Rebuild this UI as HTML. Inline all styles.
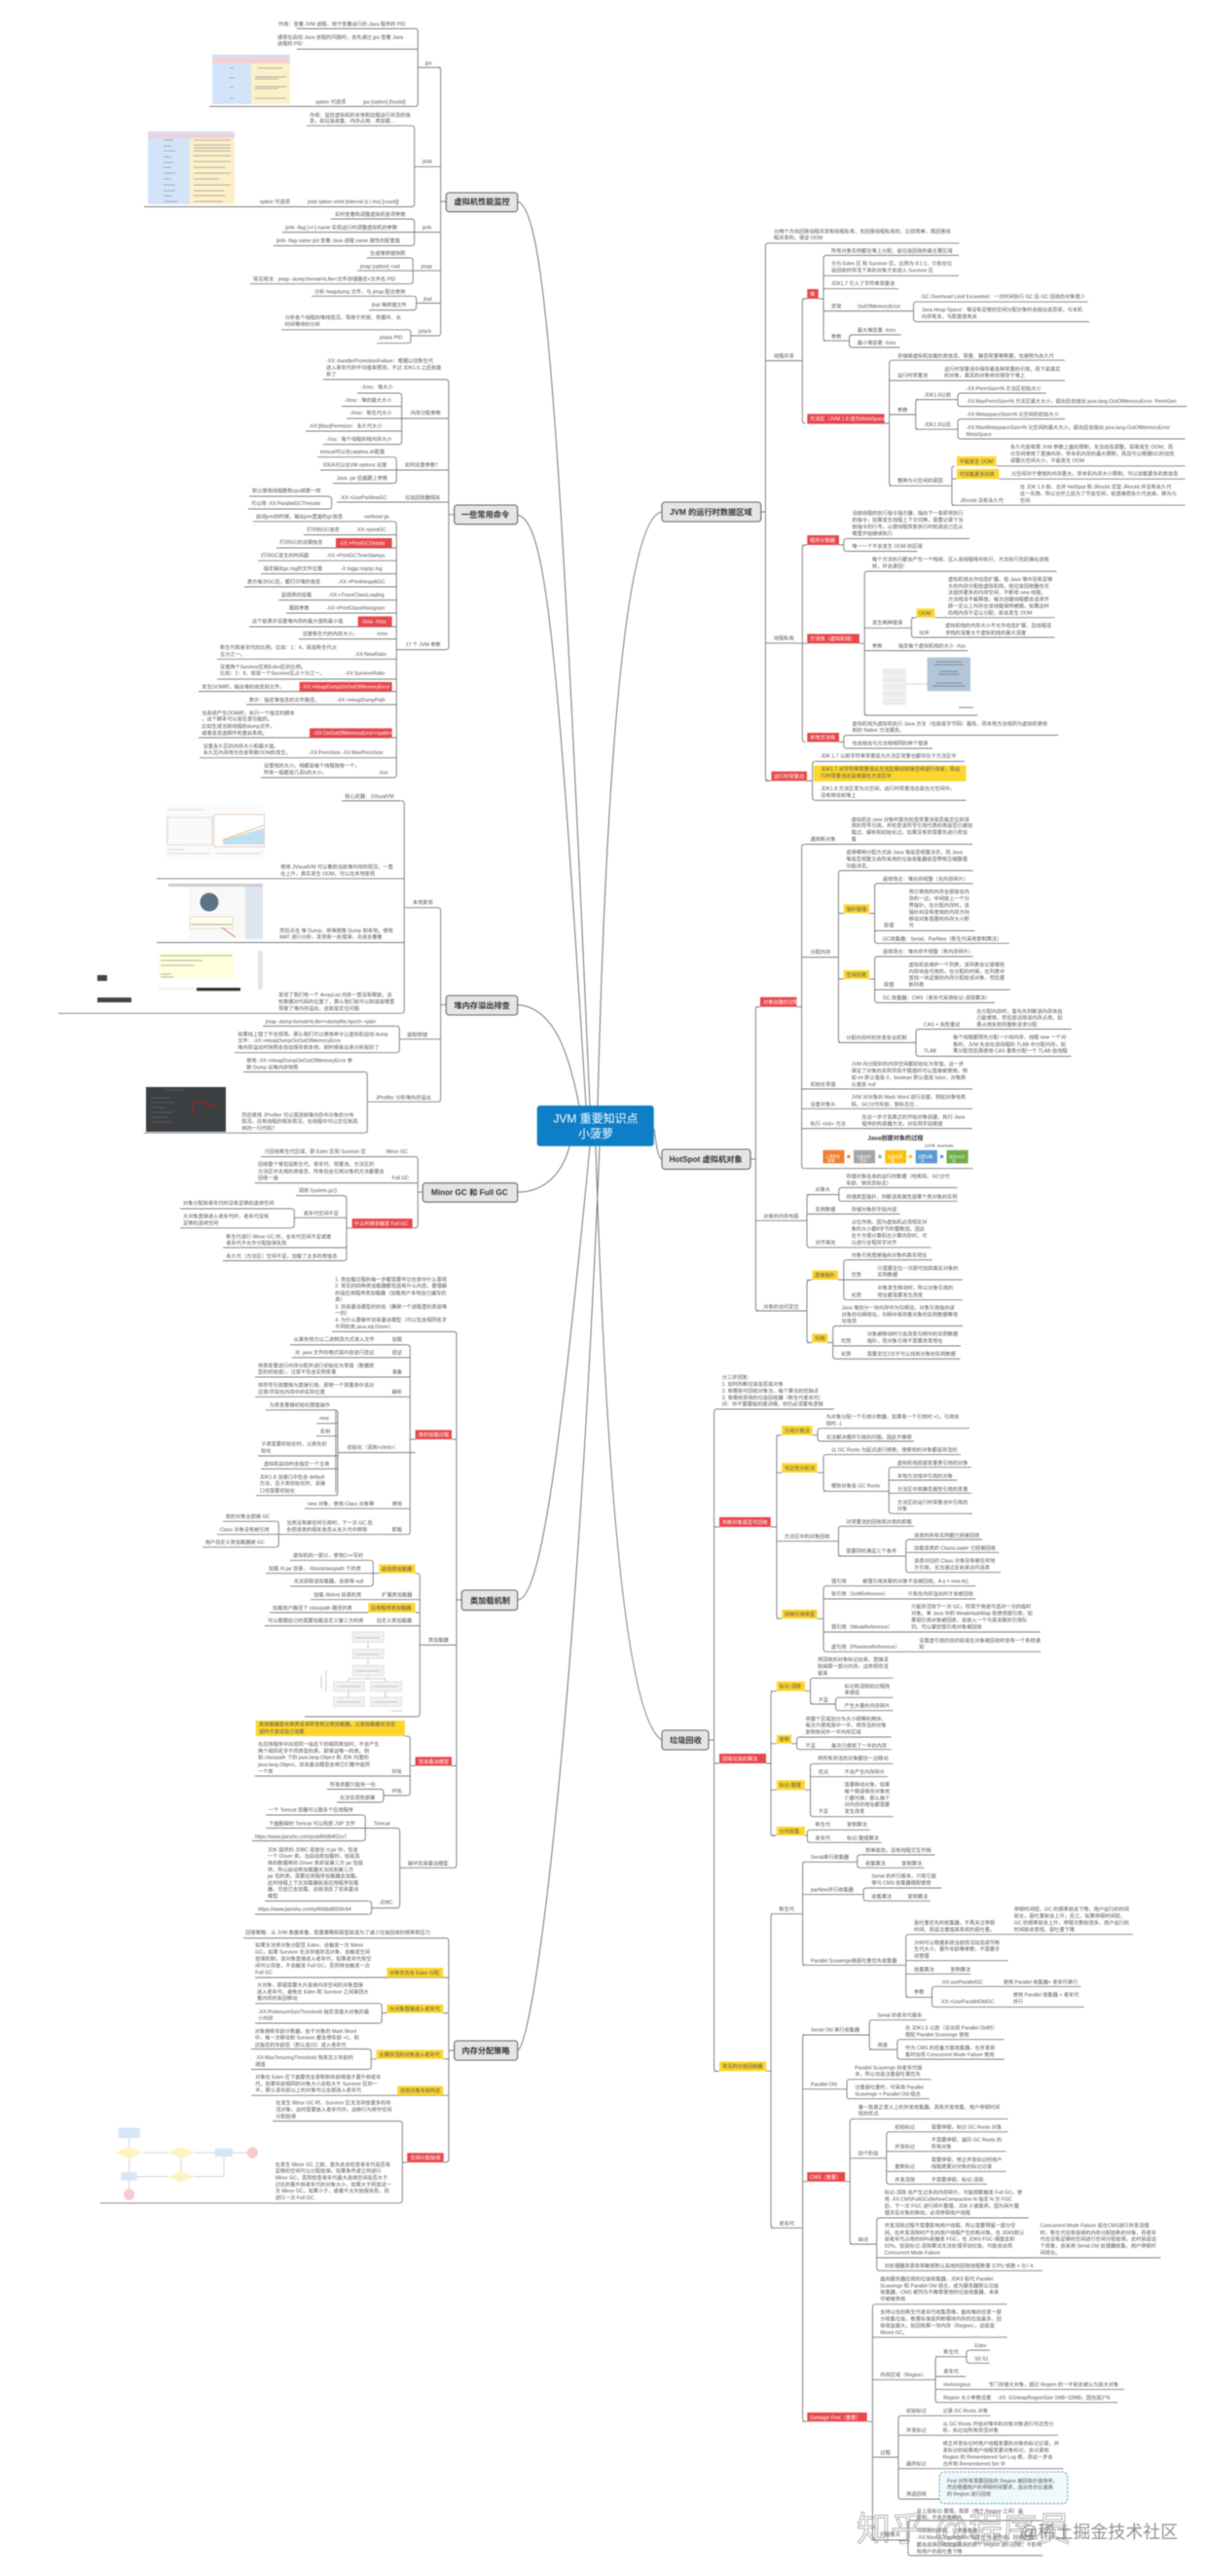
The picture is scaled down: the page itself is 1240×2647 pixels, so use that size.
<!DOCTYPE html>
<html lang="zh"><head><meta charset="utf-8"><title>JVM 重要知识点</title>
<style>
html,body{margin:0;padding:0;background:#fff;width:1240px;height:2647px;overflow:hidden}
svg{display:block;filter:blur(.4px)}
text{font-family:"Liberation Sans","Noto Sans CJK SC",sans-serif;font-size:5.2px;fill:#555}
.w text,text.w{fill:#fff}
.n{font-size:8.2px;font-weight:bold;fill:#333}
.r{fill:#e8474c}.y{fill:#fcd62f}
.b{fill:#e5e5e5;stroke:#666;stroke-width:1.1}
</style></head><body>
<svg xmlns="http://www.w3.org/2000/svg" width="1240" height="2647" viewBox="0 0 1240 2647">
<rect width="1240" height="2647" fill="#fff"/>

<!-- main curves -->
<path fill="none" stroke="#777" stroke-width="1" d="M531.7 207C560 215 575 420 606 1136M531.7 529C560 535 572 650 602 1136M531.7 1032.5C570 1035 585 1085 595 1136M531.7 1225C560 1225 578 1205 585 1178M531.7 1644C555 1644 575 1500 606 1178M531.7 2107C548 2100 590 1800 616 1178M680 526C650 530 625 700 614 1136M680 1191C676 1191 674 1175 672 1160M680 1788C650 1770 625 1600 612 1178"/>

<!-- images -->
<g>
<rect x="218" y="56" width="80" height="5" fill="#dcdcf0"/><rect x="218" y="60.5" width="80" height="4.5" fill="#f8cdd0"/><rect x="218" y="65" width="40" height="42" fill="#d3e4f8"/><rect x="258" y="65" width="40" height="42" fill="#fdf0c8"/>
<path stroke="#999" stroke-width=".8" fill="none" d="M265 70H290M262 79H294M262 81H286M262 89H294M262 91H286M262 101H294M236 70H240M235 80H241M236 90H240M236 101H240"/>
<rect x="152" y="135" width="89" height="4" fill="#dcdcf0"/><rect x="152" y="139" width="89" height="3" fill="#f8cdd0"/><rect x="152" y="142" width="43" height="68" fill="#d3e4f8"/><rect x="195" y="142" width="46" height="68" fill="#fdf0c8"/>
<path stroke="#999" stroke-width=".7" fill="none" d="M199 144H237M199 149H237M199 152H237M199 155H237M199 160H237M199 166H237M199 172H231M199 178H237M199 184H225M199 190H237M199 196H230M199 201H232M199 207H229M168 144H178M168 150H176M168 155H180M168 161H176M168 167H178M168 172H176M168 178H180M168 184H176M168 190H180M168 196H180M168 201H176M168 207H182"/>

<rect x="170" y="828" width="102" height="54" fill="#fafafa"/>
<path stroke="#bbb" stroke-width=".6" fill="none" d="M172 840H218V868H172ZM172 832H210M172 877H216M222 877H268M172 873H190"/>
<rect x="220" y="837" width="51.5" height="33" fill="#fff" stroke="#e9b8a0" stroke-width=".7"/><polygon points="229,863 271,851 271,868 229,868" fill="#bfe0ee"/><path d="M229 863L271 848" stroke="#e7b070" stroke-width=".8" fill="none"/>

<rect x="173" y="908" width="97" height="57" fill="#f8f8f8"/><rect x="173" y="908" width="97" height="3" fill="#ccc"/><rect x="252" y="911" width="18" height="54" fill="#dde5ee"/><rect x="173" y="911" width="21" height="54" fill="#fff"/><circle cx="215" cy="927" r="9.5" fill="#5d7288"/><rect x="195" y="942" width="44" height="12" fill="#fffdea" stroke="#c9c2a0" stroke-width=".5"/><path d="M228 953L241.7 963" stroke="#b44" stroke-width=".7" fill="none"/><path d="M196 950H238" stroke="#aaa" stroke-width="1" fill="none"/>

<rect x="163" y="978" width="77" height="27" fill="#ffffdc"/><path stroke="#999" stroke-width=".7" fill="none" d="M165 982H238M165 987H208M165 992H200M165 1001H176M165 1004H178"/><rect x="265" y="977" width="5" height="40" fill="#e4e4e4"/><rect x="202" y="1015" width="45" height="3.2" fill="#333"/><rect x="163" y="1014" width="38" height="4" fill="#f5f5f5"/>
<rect x="100" y="1002" width="10" height="6" fill="#444"/><rect x="100" y="1025" width="35" height="5" fill="#444"/>

<rect x="150" y="1117" width="82" height="46" fill="#3c3f41"/><path d="M198 1146V1133H208Q212 1136 224 1136" stroke="#8c2a2a" stroke-width="1.5" fill="none"/><path stroke="#667" stroke-width=".7" fill="none" d="M155 1128H175M155 1133H180M155 1138H170M155 1143H178M155 1148H172M155 1153H176M170 1120H190"/>

<!-- class loader diagram -->
<g fill="#f1f1f1" stroke="#ccc" stroke-width=".5"><rect x="362.3" y="1677" width="32" height="10.4"/><rect x="362.3" y="1694.6" width="32" height="9.7"/><rect x="362.3" y="1711.4" width="32" height="10.6"/><rect x="342.7" y="1728" width="31.6" height="10"/><rect x="380.7" y="1728" width="32" height="10"/><rect x="342.7" y="1744" width="31.6" height="9.5"/><rect x="380.7" y="1744" width="32" height="9.5"/></g>
<path stroke="#999" stroke-width=".5" fill="none" d="M378 1687.4V1694.6M378 1704.3V1711.4M378 1722V1725M358 1728V1725H396V1728M358 1738V1744M396 1738V1744M330 1722V1735M335 1716V1738M365 1683H390M365 1700H390M365 1717H390M346 1733H370M384 1733H408M346 1749H370M384 1749H408M402 1758H413"/>

<!-- flowchart -->
<rect x="121.7" y="2186.4" width="22.3" height="10.6" fill="#d6e6f7"/><polygon points="119,2212 132.7,2205.5 146.5,2212 132.7,2218.5" fill="#fdf3c0"/><polygon points="172,2212 186,2206 200,2212 186,2218" fill="#fdf3c0"/><rect x="220.7" y="2207.7" width="18.3" height="8.5" fill="#d6e6f7"/><circle cx="259.3" cy="2212" r="5.7" fill="#f6cbd0"/><rect x="124.3" y="2232" width="16.4" height="8.4" fill="#d6e6f7"/><polygon points="173,2236.6 186,2231 199,2236.6 186,2242.2" fill="#fdf3c0"/><circle cx="132.7" cy="2255" r="5.7" fill="#f6cbd0"/>
<path stroke="#aaa" stroke-width=".5" fill="none" d="M132.7 2197V2205.5M146.5 2212H172M200 2212H220.7M239 2212H253.6M132.7 2218.5V2232M186 2218V2231M173 2236.6H140.7M199 2236.6H230V2216.2M132.7 2240.4V2249.3"/>
</g>

<!-- all tree lines -->
<path fill="none" stroke="#7c7c7c" stroke-width=".95" d="
M458.3 207H452.7M449.7 69.4q3 0 3 3V342q0 3-3 3
M426.3 29.5q3 0 3 3V106.4q0 3-3 3M305 29.5H426M305 50.5H429.3M215 109.4H426M429.3 69.4H452.7
M422.7 129.2q3 0 3 3V209.5q0 3-3 3M315 129.2H423M148 212.5H423M425.7 171.3H452.7
M422.7 225q3 0 3 3V249.5q0 3-3 3M340 225H423M290 238.6H452.7M281 252.5H423
M421.3 265q3 0 3 3V288.7q0 3-3 3M377 265H421M367 278.2H452.7M257 291.7H421
M424.7 304.3q3 0 3 3V315.6q0 3-3 3M320 304.3H425M379 318.6H425M427.7 311.5H452.7
M419 338.8q3 0 3 3V349.7q0 3-3 3M289 338.8H419M387 352.7H419M422 345H449.7

M466.7 528.7H461M458 390q3 0 3 3V664.6q0 3-3 3M332 390H458
M409.7 404q3 0 3 3V453.6q0 3-3 3M367 404H410M351 417.5H412.7M356 430H461M314 443H412.7M332 456.6H410
M404.3 469.7q3 0 3 3V493.6q0 3-3 3M326 469.7H404M329 483H461M342 496.6H404
M346 516H461M337.7 510.5q3 0 3 3V520q0 3-3 3M256 510H338M255 523H338
M404.3 535.8q3 0 3 3V796q0 3-3 3M407.3 667.6H458
M260 535.8H404M312 549.6H407.3M284 563H407.3M265 576.2H407.3M268 589.6H407.3M251 603H407.3M286 616.6H407.3M294 630H407.3M256 644H407.3M307 656.6H407.3M223 677.3H407.3M223 697.9H407.3M204 710.5H407.3M253 724H407.3M204 758H407.3M205 778.7H407.3M268 799H404

M458.3 1032.5H452.7M449.7 932.7q3 0 3 3V1129.2q0 3-3 3M415.7 932.7H449.7
M412.3 822.9q3 0 3 3V1038.3q0 3-3 3M351 822.9H412M161 902.8H415.3M161 968.5H415.3M60 1041.3H412
M407.3 1054.4q3 0 3 3V1078.7q0 3-3 3M270 1054.4H407M410.7 1067.8H452.7M241 1081.7H407
M374.3 1101.5q3 0 3 3V1161.2q0 3-3 3M250 1101.5H374M377.7 1132.2H449.7M147.7 1164.2H374

M434.3 1225H429.3M426.3 1188.6q3 0 3 3V1258.8q0 3-3 3M268 1188.6H426M261.7 1215.6H429.3M423.7 1261.8H426.3
M353 1228.6q3 0 3 3V1292.5q0 3-3 3M304 1228.6H353M356 1261.8H361.7M229 1282H356M229 1295.5H353M302.7 1251.3H356
M299.3 1242q3 0 3 3V1258.8q0 3-3 3M185 1242H299M185 1261.8H299

M474.3 1644H469M466 1368.4q3 0 3 3V1916.3q0 3-3 3M341 1368.4H466M464 1479H469
M418.3 1381.9q3 0 3 3V1573.7q0 3-3 3M298 1381.9H418M300 1395H421.3M262 1415H421.3M262 1435.3H421.3M347.3 1492.6H426.7M421.3 1479H426.7M313 1550.2H421.3M287 1576.7H418M345 1448.8v84.9M344 1448.8q3 0 3 3V1533.7q0 3-3 3M273 1448.8H344M325 1462.7H347M325 1475.7H347M265 1496H347M268 1509.4H347M263 1536.7H344
M283.3 1563.3q3 0 3 3V1586.8q0 3-3 3M229 1563.3H283M223 1576.7H286M208 1589.8H283
M431.7 1690.4H469M428.3 1616.7q3 0 3 3V1761q0 3-3 3M426.7 1616.7H428.3M380.3 1603.3q3 0 3 3V1627q0 3-3 3M298 1603.3H380M273 1616.7H389.3M298 1630H380M319 1643.7H431.3M277 1657H378.3M426.7 1657H431.3M272 1670.6H431.3M313 1764H428
M464 1814.5H469M418.3 1784q3 0 3 3V1842q0 3-3 3M416 1784H418M261.7 1825H421.3M421.3 1814.5H426.7M394 1845H418
M391 1838.5q3 0 3 3V1849q0 3-3 3M336 1838.5H391M346 1852H391
M410.7 1919.3H466M407.7 1878.5q3 0 3 3V1957.6q0 3-3 3M375.7 1878.5H407.7M381.7 1960.6H407.7
M372.3 1865q3 0 3 3V1888.6q0 3-3 3M273 1865H372M273 1878.5H375M259 1891.6H372
M378.7 1953.4q3 0 3 3V1964q0 3-3 3M272 1953.4H378M262 1967H378

M466.7 2107H461M458 1991.5q3 0 3 3V2218.7q0 3-3 3M250 1991.5H458M262 2032H461M455.3 2068.5H461M455.3 2115.7H461M258 2153.2H461M413.3 2222H418.3M455.7 2222H458
M389.3 2058.7q3 0 3 3V2076q0 3-3 3M262 2058.7H389M262 2079H389M392.3 2068.5H397.3
M378.3 2105.5q3 0 3 3V2123.4q0 3-3 3M258 2105.5H378M258 2126.4H378M381.3 2115.7H386.7
M410.3 2179.6q3 0 3 3V2260.8q0 3-3 3M280 2179.6H410M103 2263.8H410

M781.8 526H786.4M789.4 249.8q-3 0-3 3V799q0 3 3 3M789 249.8H985.4
M786.4 370.6H824.3M827.3 307q-3 0-3 3V432q0 3 3 3M824.3 307H829.3M840.7 307H846
M849 262.4q-3 0-3 3V347.2q0 3 3 3M849 262.4H985M846 283.3H985M846 296.7H923M846 319.6H938.6
M941.6 310.2q-3 0-3 3V327.6q0 3 3 3M941 310.2H1117.5M941 330.6H1119
M846 350.2H872.5M875.5 344q-3 0-3 3V354q0 3 3 3M875 344H925.7M875 357H924.6
M908.6 435H913.6M916.6 370.2q-3 0-3 3V496.2q0 3 3 3M916 370.2H1094M913.6 391H1094M913.6 426H940.7M943.7 410.6q-3 0-3 3V438.2q0 3 3 3M940.7 410.6H984M940.7 441.2H984M987 404q-3 0-3 3V414.6q0 3 3 3M987 404H1074.6M987 417.6H1219.3M987 430.6q-3 0-3 3V448q0 3 3 3M987 430.6H1094M987 451H1217.5
M913.6 499.2H977.9M980.9 478.8q-3 0-3 3V516.2q0 3 3 3M1023.6 478.8H1217.5M1026.4 492.2H1217.5M978 492.2H983M978 519.2H1217.5
M786.4 660.8H824.3M827.3 560q-3 0-3 3V759.4q0 3 3 3M824.3 560H829.3M824.3 661.2H829.3M862 560H866.8
M869.8 553.5q-3 0-3 3V563.5q0 3 3 3M870 553.5H996M870 566.5H942.5
M882.9 661.2H888.2M891.2 587q-3 0-3 3V732q0 3 3 3M891 587H1085.4M888.2 645.3H936.4M888.2 668.6H994.3M888.2 735H1004.3
M939.4 634.7q-3 0-3 3V652q0 3 3 3M936.4 634.7H941.4M960.4 634.7H1083.6M939.4 655H1083.6
M862 762.4H866.8M869.8 755.5q-3 0-3 3V766q0 3 3 3M870 755.5H1087M870 769H957.9
M786.4 802.4H792.5M829 802.4H834.6M837.6 782.4q-3 0-3 3V819.4q0 3 3 3M838 782.4H990.7M838 822.4H992.5

M771 1191H776.4M779.4 1034.6q-3 0-3 3V1344q0 3 3 3M776.4 1034.6H781M818.6 1034.6H823.6M776.4 1191H776.4
M826.6 867.5q-3 0-3 3V1197.7q0 3 3 3M827 867.5H999M823.6 983.6H861.4M823.6 1119H999M823.6 1139.3H999M823.6 1159.6H999M827 1200.7H999.6
M864.4 894.6q-3 0-3 3V1068.4q0 3 3 3M864.4 894.6H999.6M861.4 938.6H866.8M893.2 938.6H898.6M861.4 1006H866.8M893.2 1006H898.6M861.4 1071.4H941
M901.6 907.9q-3 0-3 3V966.3q0 3 3 3M901.6 907.9H999.6M898.6 956.4H1001.4M901.6 969.3H1037
M901.6 982.9q-3 0-3 3V1027.4q0 3 3 3M901.6 982.9H999.6M898.6 1017H1037.9M901.6 1030.4H1022
M944 1057.5q-3 0-3 3V1082.4q0 3 3 3M944 1057.5H1100.7M944 1085.4H1100.7
M776.4 1254.3H829M832 1227.5q-3 0-3 3V1278.8q0 3 3 3M829 1227.5H861.8M829 1247.5H924.6M832 1281.8H956.8M864.8 1220.4q-3 0-3 3V1231.3q0 3 3 3M864.8 1220.4H983.6M864.8 1234.3H983.6
M776.4 1347H829M832 1315.4q-3 0-3 3V1376.6q0 3 3 3M829 1315.2H834.3M829 1379.6H834.3M861 1315H866.8M850.4 1379.6H855.7
M869.8 1294.6q-3 0-3 3V1332.7q0 3 3 3M870 1294.6H957.9M866.8 1315H989M870 1335.7H989
M858.7 1362.5q-3 0-3 3V1393.4q0 3 3 3M858.7 1362.5H989M855.7 1383H987M858.7 1396.4H986.4

M728 1788H733.6M736.6 1448q-3 0-3 3V2125.3q0 3 3 3M736.6 1448H856.8M733.6 1569H739M733.6 1812H739M733.6 2128.3H739
M791.8 1569H797.9M800.9 1474.7q-3 0-3 3V1660.3q0 3 3 3M797.9 1474.7H803.2M797.9 1513.3H803.2M797.9 1583.7H861.4M797.9 1663.3H803.2
M834.6 1474.7H840M843 1467.7q-3 0-3 3V1478q0 3 3 3M843 1467.7H996M843 1481H939
M839.6 1513.3H846M849 1494.7q-3 0-3 3V1529.3q0 3 3 3M849 1494.7H987M846 1532.3H913.2M916.2 1507.7q-3 0-3 3V1552.3q0 3 3 3M916 1507.7H997.9M913.2 1521H983.6M913.2 1534.3H997.9M916 1555.3H999
M864.4 1568.3q-3 0-3 3V1596q0 3 3 3M864.4 1568.3H939M861.4 1599H930.7M933.7 1582q-3 0-3 3V1612.7q0 3 3 3M933.7 1582H1009.3M930.7 1595.3H1026.4M933.7 1615.7H1028
M839.6 1663.3H846M849 1629.7q-3 0-3 3V1694.3q0 3 3 3M849 1629.7H1002.5M846 1643H1002.5M846 1677H1068.6M849 1697.3H1069.3
M787 1812H792M795 1737.7q-3 0-3 3V1883.7q0 3 3 3M792 1737.7H797.9M792 1791.7H797.9M792 1839.3H797.9M792 1886H797.9
M827 1737.7H832.5M835.5 1724.3q-3 0-3 3V1748q0 3 3 3M835.5 1724.3H917.5M832.5 1751H858.6M861.6 1744.3q-3 0-3 3V1754.7q0 3 3 3M861.6 1744.3H917.5M861.6 1757.7H917.5
M813.2 1791.7H818.6M821.6 1785q-3 0-3 3V1794.7q0 3 3 3M821.6 1785H915.7M821.6 1797.7H915.7
M827 1839.3H832.5M835.5 1812.3q-3 0-3 3V1863.7q0 3 3 3M835.5 1812.3H917.5M832.5 1825.7H912M835.5 1866.7H917.5
M827 1886H829.3M832.3 1880.3q-3 0-3 3V1890.3q0 3 3 3M832.3 1880.3H893.6M832.3 1893.3H905.7

M787 2128.3H792M795 1966.7q-3 0-3 3V2286.3q0 3 3 3M792 1966.7H824.6M792 2289.3H824.6
M827.6 1913.3q-3 0-3 3V2016.3q0 3 3 3M824.6 1913.3H880.7M824.6 1946.7H887M824.6 2019.3H930.7
M883.7 1906q-3 0-3 3V1916.3q0 3 3 3M884 1906H960.4M884 1919.3H949.6
M890.1 1940q-3 0-3 3V1950.3q0 3 3 3M890 1940H967.5M890 1953.3H955.7
M933.7 1987.7q-3 0-3 3V2049.3q0 3 3 3M934 1987.7H1164M930.7 2014.7H1035.4M930.7 2028.3H997M930.7 2052.3H957.5
M960.5 2041.3q-3 0-3 3V2059.3q0 3 3 3M960.5 2041.3H1110.4M960.5 2062.3H1114
M827.6 2091q-3 0-3 3V2485.3q0 3 3 3M824.6 2091H893.2M824.6 2146.7H870M824.6 2241.7H829.3M824.6 2488.3H829.3
M896.2 2075.7q-3 0-3 3V2103q0 3 3 3M896 2075.7H951.4M893.2 2106H921.8M924.8 2095.7q-3 0-3 3V2113q0 3 3 3M925 2095.7H1031.8M925 2116H1031.8
M873 2136.7q-3 0-3 3V2153.7q0 3 3 3M873 2136.7H956.8M873 2156.7H955
M868.2 2241.7H873.2M876.2 2177.3q-3 0-3 3V2303q0 3 3 3M876 2177.3H1035.4M873.2 2217.7H910.7M873.2 2306H900.7
M913.7 2190.7q-3 0-3 3V2241.3q0 3 3 3M913.7 2190.7H1035.4M910.7 2210.7H1033.6M910.7 2231.3H1033.6M913.7 2244.3H1014
M903.7 2279q-3 0-3 3V2330.3q0 3 3 3M903.7 2279H1056.8M900.7 2320H1192.5M903.7 2333.3H1071
M890.7 2488.3H896.4M899.4 2367.7q-3 0-3 3V2607q0 3 3 3M899.4 2367.7H1034.6M896.4 2401.7H1034.6M896.4 2445.3H961M896.4 2525H922.9M896.4 2610H932.9
M964 2421.7q-3 0-3 3V2465.7q0 3 3 3M961 2421.7H992.9M961 2442H992M961 2455.3H1155M964 2468.7H1148.6
M995.9 2415q-3 0-3 3V2425.3q0 3 3 3M996 2415H1016.8M996 2428.3H1016.8
M925.9 2482.3q-3 0-3 3V2565q0 3 3 3M926 2482.3H1017.5M922.9 2502.3H1087M922.9 2536.7H1092.5M926 2568H965
M935.9 2590q-3 0-3 3V2623q0 3 3 3M936 2590H1071M936 2626H1071
"/>

<!-- boxes -->
<rect class="b" x="458.3" y="198" width="73.4" height="19.6" rx="3"/><text class="n" x="466.5" y="210">虚拟机性能监控</text>
<rect class="b" x="466.7" y="519" width="65" height="19.7" rx="3"/><text class="n" x="474" y="531.6">一些常用命令</text>
<rect class="b" x="458.3" y="1023" width="73.4" height="20" rx="3"/><text class="n" x="466.5" y="1036">堆内存溢出排查</text>
<rect class="b" x="434.3" y="1215.6" width="97.4" height="19.6" rx="3"/><text class="n" x="443" y="1228">Minor GC 和 Full GC</text>
<rect class="b" x="474.3" y="1634" width="57.4" height="20.6" rx="3"/><text class="n" x="483" y="1647.5">类加载机制</text>
<rect class="b" x="466.7" y="2097" width="65" height="20" rx="3"/><text class="n" x="474.5" y="2110">内存分配策略</text>
<rect class="b" x="680" y="516" width="101.8" height="20" rx="3"/><text class="n" x="688" y="529">JVM 的运行时数据区域</text>
<rect class="b" x="680" y="1181" width="91" height="20.4" rx="3"/><text class="n" x="687.5" y="1194">HotSpot 虚拟机对象</text>
<rect class="b" x="680" y="1778" width="48" height="20" rx="3"/><text class="n" x="688" y="1791">垃圾回收</text>
<rect x="551.7" y="1136" width="120" height="41.7" rx="3" fill="#0d7fc6"/>
<text x="612" y="1153.5" text-anchor="middle" style="font-size:12px;fill:#fff">JVM 重要知识点</text>
<text x="612" y="1169" text-anchor="middle" style="font-size:12px;fill:#fff">小菠萝</text>

<!-- coloured labels -->
<g class="r">
<rect x="345" y="553" width="57.7" height="10"/><rect x="367.7" y="633.4" width="35" height="10.6"/><rect x="307.7" y="700.8" width="95" height="9.7"/><rect x="318" y="748.4" width="84.7" height="9.6"/>
<rect x="361.7" y="1252.2" width="62" height="10.1"/><rect x="426.7" y="1469.4" width="37.3" height="9.6"/><rect x="426.7" y="1805.3" width="37.3" height="9.2"/><rect x="418.3" y="2212.3" width="37.4" height="9.7"/>
<rect x="829.3" y="297" width="11.4" height="10"/><rect x="829.3" y="425.3" width="79.3" height="10.2"/><rect x="829.3" y="550" width="32.7" height="10"/><rect x="829.3" y="651.4" width="53.6" height="9.8"/><rect x="829.3" y="753" width="32.7" height="9.4"/><rect x="792.5" y="792.7" width="36.5" height="9.7"/>
<rect x="781" y="1024.6" width="37.6" height="10"/><rect x="739" y="1559" width="52.8" height="10"/><rect x="739" y="1802" width="48" height="10"/><rect x="829.3" y="2232" width="38.9" height="9.7"/><rect x="829.3" y="2479" width="61.4" height="9.3"/>
</g>
<g class="y">
<rect x="389.3" y="1607.5" width="37.4" height="9.2"/><rect x="378.3" y="1647" width="48.4" height="10"/><rect x="262.7" y="1768" width="153.3" height="16"/>
<rect x="397.3" y="2022" width="58" height="10"/><rect x="397.3" y="2059.6" width="58" height="8.9"/><rect x="386.7" y="2106.4" width="68.6" height="9.3"/><rect x="408.3" y="2143.4" width="47" height="9.8"/>
<rect x="982.9" y="469" width="40.7" height="9.8"/><rect x="982.9" y="482" width="43.5" height="10.2"/><rect x="941.4" y="625.3" width="19" height="9.4"/><rect x="836" y="786.5" width="156.5" height="16.4"/>
<rect x="866.8" y="929.3" width="26.4" height="9.3"/><rect x="866.8" y="997" width="26.4" height="9"/><rect x="834.3" y="1305.4" width="26.7" height="9.6"/><rect x="834.3" y="1370.4" width="16.1" height="9.2"/>
<rect x="803.2" y="1465" width="31.4" height="9.7"/><rect x="803.2" y="1503.3" width="36.4" height="10"/><rect x="803.2" y="1654" width="36.4" height="9.3"/><rect x="797.9" y="1727.7" width="29.1" height="10"/><rect x="797.9" y="1782.7" width="15.3" height="9"/><rect x="797.9" y="1829.3" width="29.1" height="10"/><rect x="797.9" y="1877" width="29.1" height="9"/><rect x="739" y="2118.3" width="48" height="10"/>
</g>
<g fill="#ee8034"><rect x="845.4" y="1181.8" width="22.1" height="13.6"/></g>
<rect x="877" y="1181.8" width="22" height="13.6" fill="#a5a5a5"/><rect x="909.3" y="1181.8" width="21.7" height="13.6" fill="#fdbe10"/><rect x="940.7" y="1181.8" width="22.2" height="13.6" fill="#5a9ad5"/><rect x="972.5" y="1181.8" width="22.1" height="13.6" fill="#70ad47"/>
<circle cx="871.8" cy="1188.5" r="1.7" fill="#ee8034"/><circle cx="904" cy="1188.5" r="1.7" fill="#8aa"/><circle cx="935.4" cy="1188.5" r="1.7" fill="#fdbe10"/><circle cx="967.5" cy="1188.5" r="1.7" fill="#5a9ad5"/>
<rect x="965" y="2540" width="131.8" height="32.7" rx="5" fill="#eff8fb" stroke="#3d9a9a" stroke-width=".8" stroke-dasharray="2.5 1.5"/>

<!-- white-on-colour text -->
<g class="w">
<text x="348" y="560">-XX:+PrintGCDetails</text><text x="371" y="640.5">-Xmx -Xmx</text><text x="310" y="707.6">-XX:+HeapDumpOnOutOfMemoryError</text><text x="322" y="755">-XX:OnOutOfMemoryError=&lt;path&gt;</text>
<text x="364" y="1259">什么时候会触发 Full GC</text><text x="430" y="1476">类的加载过程</text><text x="430" y="1812">双亲委派模型</text><text x="421.5" y="2219">空间分配担保</text>
<text x="832" y="304">堆</text><text x="832" y="432">方法区（JVM 1.8 改为MetaSpace）</text><text x="832" y="557">程序计数器</text><text x="832" y="658">方法栈（虚拟机栈）</text><text x="832" y="759.5">本地方法栈</text><text x="795" y="799.5">运行时常量池</text>
<text x="784" y="1031.5">对象创建的过程</text><text x="742" y="1566">判断对象是否可回收</text><text x="742" y="1809">回收垃圾的算法</text><text x="832" y="2239">CMS（重要）</text><text x="832" y="2486">Garbage First（重要）</text>
<text x="848" y="1190" style="font-size:3.8px">上类符号<tspan x="850" dy="4">加载</tspan></text><text x="880" y="1190" style="font-size:3.8px">分配内存<tspan x="883" dy="4">空间</tspan></text><text x="912" y="1190" style="font-size:3.8px">初始化零<tspan x="915" dy="4">值</tspan></text><text x="943" y="1190" style="font-size:3.8px">设置对象<tspan x="946" dy="4">头</tspan></text><text x="975" y="1190" style="font-size:3.8px">执行init方<tspan x="978" dy="4">法</tspan></text>
</g>

<!-- 虚拟机性能监控 -->
<text x="437" y="66.4">jps</text>
<text x="286" y="26.4">作用：查看 JVM 进程，用于查看运行的 Java 程序的 PID</text>
<text x="285" y="40">通常在启动 Java 进程的问题时，会先通过 jps 查看 Java</text><text x="285" y="46.6">进程的 PID</text>
<text x="324" y="106.4">option 可选项</text><text x="373.3" y="106.4">jps [option] [hostid]</text>
<text x="434" y="167.4">jstat</text>
<text x="318" y="119.8">作用：监控虚拟机的本地和远程运行状态的信</text><text x="318" y="126">息，如垃圾收集、内存占用、类加载…</text>
<text x="266.7" y="209">option 可选项</text><text x="316" y="209">jstat option vmid [interval [s | ms] [count]]</text>
<text x="434" y="235.6">jinfo</text><text x="344" y="222">实时查看和调整虚拟机各项参数</text><text x="293.3" y="235.6">jinfo -flag [+/-] name 实现运行时调整虚拟机的参数</text><text x="284" y="249">jinfo -flag name pid 查看 Java 进程 name 属性的配置值</text>
<text x="432.7" y="275.6">jmap</text><text x="380" y="262">生成堆转储快照</text><text x="370" y="275.6">jmap [option] &lt;vid</text><text x="260" y="288.6">常见用法：jmap -dump:format=b,file=文件存储路径+文件名 PID</text>
<text x="435.3" y="308.8">jhat</text><text x="323" y="301.7">分析 heapdump 文件，与 jmap 配合使用</text><text x="382" y="315">jhat 堆转储文件</text>
<text x="430" y="342">jstack</text><text x="292.7" y="328">分析各个线程的堆栈情况，常用于死锁、死循环、长</text><text x="292.7" y="335">时间等待的分析</text><text x="390" y="348.4">jstack PID</text>

<!-- 一些常用命令 -->
<text x="335" y="372.4">-XX:-handlerPromotionFailure：根据以往新生代</text><text x="335" y="379.5">进入老年代的平均值来预测，不过 JDK1.6 之后就废</text><text x="335" y="386.3">弃了</text>
<text x="421.7" y="426">内存分配参数</text><text x="370.7" y="399.3">-Xms：堆大小</text><text x="354" y="412.8">-Xmx：堆的最大大小</text><text x="359" y="426">-Xmn：新生代大小</text><text x="317" y="439.7">-XX:[Max]Permsize：永久代大小</text><text x="335" y="452.8">-Xss：每个线程的栈内存大小</text>
<text x="416" y="479.7">如何设置参数？</text><text x="329" y="465.8">tomcat可以在catalina.sh配置</text><text x="332" y="479.7">IDEA可以在VM options 设置</text><text x="345.7" y="493">Java -jar 后面跟上参数</text>
<text x="416" y="513">垃圾回收器相关</text><text x="349" y="513">-XX:+UseParNewGC</text><text x="259" y="506">默认使用线程数和cpu核数一样</text><text x="258" y="519">可以用 -XX:ParallelGCThreads</text>
<text x="416.7" y="664">17 个 JVM 参数</text>
<text x="373" y="532.7">-verbose:gc</text><text x="263" y="532.7">启动jvm的时候，输出jvm里面的gc信息</text>
<text x="365.7" y="545.8">-XX:+printGC</text><text x="315" y="545.8">打印的GC信息</text><text x="287.3" y="559.2">打印GC的详细信息</text>
<text x="335" y="572.7">-XX:+PrintGCTimeStamps</text><text x="268" y="572.7">打印GC发生的时间戳</text>
<text x="350" y="586">-X loggc:log/gc.log</text><text x="270.7" y="586">指定输出gc.log的文件位置</text>
<text x="347" y="599.6">-XX:+PrintHeapAtGC</text><text x="254" y="599.6">表示每次GC后，都打印堆的信息</text>
<text x="337.3" y="613">-XX:+TraceClassLoading</text><text x="289" y="613">监视类的加载</text>
<text x="335" y="626.6">-XX:+PrintClassHistogram</text><text x="297" y="626.6">跟踪参数</text>
<text x="259" y="640">这个就表示设置堆内存的最大值和最小值</text>
<text x="385.7" y="653">-Xmn</text><text x="310.7" y="653">设置新生代的内存大小。</text>
<text x="364.3" y="673.8">-XX:NewRatio</text><text x="226" y="667">新生代和老年代的比例。比如：1：4，就是新生代占</text><text x="226" y="673.8">五分之一。</text>
<text x="354" y="693.6">-XX:SurvivorRatio</text><text x="226" y="687">设置两个Survivor区和Eden区的比例。</text><text x="226" y="693.6">比如：2：8，就是一个Survivor区占十分之一。</text>
<text x="207.3" y="707.6">发生OOM时，输出堆的信息到文件。</text>
<text x="345.7" y="721">-XX:+HeapDumpPath</text><text x="255.7" y="721">表示：指定堆信息的文件路径。</text>
<text x="207.3" y="734.4">当系统产生OOM时，执行一个指定的脚本</text><text x="207.3" y="740.7">，这个脚本可以是任意功能的。</text><text x="207.3" y="747.9">比如生成当前线程的dump文件，</text><text x="207.3" y="755">或者是发送邮件和重启系统。</text>
<text x="317.3" y="775">-XX:PermSize -XX:MaxPermSize</text><text x="208.7" y="768.5">设置永久区的内存大小和最大值。</text><text x="208.7" y="775.2">永久区内存用光也会导致OOM的发生。</text>
<text x="388.3" y="795.4">-Xss</text><text x="271" y="788.7">设置栈的大小。栈都是每个线程独有一个，</text><text x="271" y="795.4">所有一般都是几百k的大小。</text>

<!-- 堆内存溢出排查 -->
<text x="424" y="928.8">本地复现</text><text x="354.3" y="819.8">核心武器：JVisualVM</text>
<text x="288.3" y="892.6">使用 JVisualVM 可以看到当前堆内存的情况，一直</text><text x="288.3" y="899.4">在上升，真实发生 OOM，可以在本地复现</text>
<text x="287.3" y="957.9">然后点击 堆 Dump，将堆镜像 Dump 到本地，使用</text><text x="287.3" y="964.6">MAT 进行分析，发现有一处错误，点进去看看</text>
<text x="286" y="1024">发现了我们有一个 ArrayList 内存一直没有释放，这</text><text x="286" y="1031.1">些数据对代码的位置了，那么我们就可以知道是哪里</text><text x="286" y="1037.8">导致了堆内存溢出，这就是定位问题</text>
<text x="272.7" y="1051.3">jmap -dump:format=b,file=&lt;dumpfile.hprof&gt; &lt;pid&gt;</text>
<text x="418.3" y="1064.8">提取转储</text>
<text x="244.3" y="1064.4">如果线上错了不在现场，那么我们可以使用命令让虚拟机自动 dump</text><text x="244.3" y="1071">文件：-XX:+HeapDumpOnOutOfMemoryError</text><text x="244.3" y="1078.2">堆内存溢出时快照会自动保存到本地，到时候拿出来分析就好了</text>
<text x="386" y="1129.6">JProfiler 分析堆内存溢出</text>
<text x="253.3" y="1091.3">使用 -XX:+HeapDumpOnOutOfMemoryError 参</text><text x="253.3" y="1098.5">数 Dump 出堆内存快照</text>
<text x="248.3" y="1147.3">然后使用 JProfiler 可以观测到堆内存中对象的分布</text><text x="248.3" y="1154">情况，还有线程的相关情况，在线程中可以定位到具</text><text x="248.3" y="1161.2">体的一行代码?</text>

<!-- Minor GC -->
<text x="396.7" y="1185">Minor GC</text><text x="271.7" y="1185">只回收新生代区域，即 Eden 区和 Survivor 区</text>
<text x="402.7" y="1212">Full GC</text><text x="265" y="1198.2">回收整个堆包括新生代、老年代、常量池、方法区的</text><text x="265" y="1205.3">方法区中无用的类信息、所有包含引用对象的方法都要去</text><text x="265" y="1212">回收一遍</text>
<text x="306.7" y="1225">调用 System.gc()</text><text x="311.7" y="1248.3">老年代空间不足</text>
<text x="188" y="1238">对象分配到老年代时没有足够的连续空间</text><text x="188" y="1251.6">大对象直接进入老年代时，老年代没有</text><text x="188" y="1258.4">足够的连续空间</text>
<text x="232.3" y="1272.3">新生代进行 Minor GC 时，全年代空间不足或者</text><text x="232.3" y="1279">老年代不允许分配担保失败</text><text x="232.3" y="1292.5">永久代（方法区）空间不足，加载了太多的类信息</text>

<!-- 类加载机制 -->
<text x="344.3" y="1316.5">1. 类加载过程的每一步都需要牢记在类中什么事情</text><text x="344.3" y="1323">2. 常见的四种类加载器都包括有什么内容，要理解</text><text x="344.3" y="1330.4">的是应用程序类加载器（加载用户本地自己编写的</text><text x="344.3" y="1337">类）</text><text x="344.3" y="1344.3">3. 双亲委派模型的好处（确保一个进程里的类是唯</text><text x="344.3" y="1351">一的）</text><text x="344.3" y="1358.2">4. 为什么要破坏双亲委派模型（可以包含相同名字</text><text x="344.3" y="1365">不同的类 java.sql.Driver）</text>
<text x="402.7" y="1378">加载</text><text x="301.7" y="1378">从某些地方以二进制流方式读入文件</text>
<text x="402.7" y="1391.4">验证</text><text x="303" y="1391.4">对 .java 文件的格式是内容进行验证</text>
<text x="402.7" y="1411.6">准备</text><text x="265" y="1405">将类变量进行内存分配并进行初始化为零值（数据类</text><text x="265" y="1411.6">型的初始值），注意不包含实例变量</text>
<text x="402.7" y="1431.8">解析</text><text x="265" y="1425">将符号引用替换为直接引用，即将一个常量类中该对</text><text x="265" y="1431.8">应类/字段在内存中的实际位置</text>
<text x="356.7" y="1489">初始化（调用&lt;clinit&gt;）</text><text x="276.7" y="1445.3">为类变量做初始化赋值操作</text><text x="328.3" y="1459.2">new</text><text x="329" y="1472.3">反射</text><text x="268.3" y="1485.7">子类需要初始化时，父类先初</text><text x="268.3" y="1492.5">始化</text><text x="271" y="1506">虚拟机启动时会指定一个主类</text><text x="266.7" y="1519.4">JDK1.8 当接口中包含 default</text><text x="266.7" y="1526">方法，且子类初始化时，该接</text><text x="266.7" y="1533.3">口也需要初始化</text>
<text x="402.7" y="1547">使用</text><text x="316" y="1547">new 对象，使用 Class 对象等</text>
<text x="402.7" y="1573.3">卸载</text><text x="294.3" y="1566.5">当类没有被任何引用时，下一次 GC 后</text><text x="294.3" y="1573.3">会把该类的相关信息从永久代中移除</text>
<text x="231.7" y="1560">类的对象全部被 GC</text><text x="226" y="1573.3">Class 对象没有被引用</text><text x="210.7" y="1586.7">用户自定义类加载器被 GC</text>
<text x="440" y="1687">类加载器</text>
<text x="392" y="1614">启动类加载器</text><text x="301" y="1600">虚拟机的一部分，使用C++写的</text><text x="276" y="1613.7">加载 /rt.jar 目录，-Xbootclasspath 下的类</text><text x="301.7" y="1626.7">无法获取该加载器，会获得 null</text>
<text x="392.3" y="1640.6">扩展类加载器</text><text x="322.3" y="1640.6">加载 /lib/ext 目录的类</text>
<text x="381" y="1654">应用程序类加载器</text><text x="280" y="1654">加载用户路径下 classpath 路径的类</text>
<text x="386.7" y="1667">自定义类加载器</text><text x="275" y="1667">可以根据自己的需要加载自定义第三方的类</text>
<text x="266" y="1773.6">类加载器首先将类请求转发到父类加载器，父类加载器无法完</text><text x="266" y="1780.8">成时才尝试自己加载</text>
<text x="402.7" y="1822">好处</text><text x="265" y="1794.2">在应用程序中出现同一级后下的相同类加时，不会产生</text><text x="265" y="1801">两个相同名字不同类型的类，即保证唯一的类。例</text><text x="265" y="1807.7">如 classpath 下的 java.lang.Object 和 JDK 内置的</text><text x="265" y="1814.8">java.lang.Object，双亲委派模型会将它们看作是同</text><text x="265" y="1822">一个类</text>
<text x="402.7" y="1842">坏处</text><text x="339" y="1835.5">所有类都只能有一份</text><text x="349" y="1849">无法实现热部署</text>
<text x="419" y="1916.3">破坏双亲委派模型</text><text x="384" y="1875.5">Tomcat</text>
<text x="276" y="1861.6">一个 Tomcat 容器可以跑多个应用程序</text><text x="276" y="1875.5">下面删掉的 Tomcat 可以热部 JSP 文件</text><text x="261.7" y="1889">https://www.jianshu.com/p/abf6fd84f31e7</text>
<text x="390" y="1956.7">JDBC</text>
<text x="275" y="1902.4">JDK 提供的 JDBC 是放在 rt.jar 中，包含</text><text x="275" y="1909">一个 Driver 类，当启动类加载时，但是具</text><text x="275" y="1915.9">体的数据库的 Driver 类却是第三方 jar 包提</text><text x="275" y="1923">供，所以启动类加载器无法找到第三方</text><text x="275" y="1929.7">jar 包的类，需要应用程序加载器去加载。</text><text x="275" y="1936.5">此时线程上下文加载器就是应用程序加载</text><text x="275" y="1943.2">器，交给它去加载，这就违反了双亲委派</text><text x="275" y="1950">模型</text>
<text x="265" y="1963.4">https://www.jianshu.com/p/60dbd8009c64</text>

<!-- 内存分配策略 -->
<text x="252.3" y="1987.5">回答策略：从 JVM 角度来看，配置策略和原型就是为了减少垃圾回收的频率和压力</text>
<text x="400" y="2029">对象优先在 Eden 分配</text><text x="262.3" y="2000.7">如果无法将对象分配至 Eden，会触发一次 Minor</text><text x="262.3" y="2007.5">GC，如果 Survivor 无法存储存活对象，会触发空间</text><text x="262.3" y="2014.3">担保机制，该对象直接进入老年代，如果老年代有空</text><text x="262.3" y="2021.6">闲可以存放，不会触发 Full GC，否则将会触发一次</text><text x="262.3" y="2028.4">Full GC</text>
<text x="400" y="2066">大对象直接进入老年代</text><text x="264" y="2041.6">大对象，即超需要大片连续内存空间的对象直接</text><text x="264" y="2048.4">进入老年代，避免在 Eden 和 Survivor 之间来回大</text><text x="264" y="2055">量内存的来回移动</text><text x="265" y="2068.8">-XX:PretenureSizeThreshold 指定该值大对象的最</text><text x="265" y="2075.6">小内存</text>
<text x="389.5" y="2113">长期存活的对象进入老年代</text><text x="261.7" y="2088.8">对象拥有年龄计数器，处于对象的 Mark Word</text><text x="261.7" y="2095.6">中，每一次移动到 Survivor 都会使年龄 +1，到</text><text x="261.7" y="2102.9">达指定的年龄后（默认是15）进入老年代</text><text x="262.3" y="2116">-XX:MaxTenuringThreshold 用来定义年龄的</text><text x="262.3" y="2122.9">阈值</text>
<text x="411" y="2150">动态对象年龄判定</text><text x="262.3" y="2136">对象在 Eden 区下面要完全复制到年龄阈值才晋升到老年</text><text x="262.3" y="2142.9">代，如果年龄相同的对象大小总和大于 Survivor 区的一</text><text x="262.3" y="2149.7">半，那么该年龄以上的对象可以全部进入老年代</text>
<text x="283.3" y="2162.4">在发生 Minor GC 时，Survivor 区无法存放更多的存</text><text x="283.3" y="2169.7">活对象，这时需要放入老年代中，这种行为称作空间</text><text x="283.3" y="2176.5">分配担保</text>
<text x="282.7" y="2225.8">在发生 Minor GC 之前，首先会去检查老年代是否有</text><text x="282.7" y="2232.6">足够的空间可以分配担保，如果条件成立则进行</text><text x="282.7" y="2239.4">Minor GC，否则检查老年代最大连续空间是否大于</text><text x="282.7" y="2246.3">过往的晋升到老年代的对象大小，如果大于则尝试一</text><text x="282.7" y="2253">次 Minor GC，如果小于，或者不允许担保失败，则</text><text x="282.7" y="2259.9">进行一次 Full GC.</text>

<!-- JVM 运行时 -->
<text x="795" y="239.6">分两个方向回答线程共享和线程私有，先回答线程私有的，比较简单，再回答线</text><text x="795" y="246">程共享的，保证 OOM</text>
<text x="795" y="367.3">线程共享</text>
<text x="854" y="259.6">所有对象实例都在堆上分配，是垃圾回收的最主要区域</text><text x="854" y="272.6">分为 Eden 区 和 Survivor 区，比例为 8:1:1，只有在垃</text><text x="854" y="279.6">圾回收时存活下来的对象才会进入 Survivor 区</text><text x="854" y="293">JDK1.7 引入了字符串常量池</text>
<text x="854" y="316.7">异常</text><text x="881" y="316.7">OutOfMemoryError</text><text x="946.8" y="306.5">GC Overhead Limit Exceeded：一次时间执行 GC 后 GC 回收的对象很少</text><text x="946.8" y="320">Java Heap Space：堆没有足够的空间分配对象时会抛出该异常，与本机</text><text x="946.8" y="327">内存有关，与配置值有关</text>
<text x="854" y="347.3">参数</text><text x="880.7" y="340.8">最大堆容量 -Xmx</text><text x="880.7" y="353.8">最小堆容量 -Xms</text>
<text x="922" y="367.3">存储被虚拟机加载的类信息、常量、静态常量等数据，也被称为永久代</text>
<text x="922" y="387.7">运行时常量池</text><text x="970" y="380.8">运行时常量池中保存着各种常量的引用，而下是真实</text><text x="970" y="387.7">的对象，真实的对象依旧保存于堆上</text>
<text x="922" y="422.8">参数</text><text x="949.6" y="407.7">JDK1.8以前</text><text x="992.5" y="401.2">-XX:PermSize=N 方法区初始大小</text><text x="992.5" y="414.2">-XX:MaxPermSize=N 方法区最大大小，超出后会抛出 java.lang.OutOfMemoryError: PermGen</text>
<text x="949.6" y="437.9">JDK1.8以后</text><text x="992.5" y="427.7">-XX:MetaspaceSize=N 元空间的初始大小</text><text x="992.5" y="441.2">-XX:MaxMetaspaceSize=N 元空间的最大大小，超出后会抛出 java.lang.OutOfMemoryError:</text><text x="992.5" y="448">MetaSpace</text>
<text x="922" y="495.5">替换为元空间的原因</text>
<text x="985.5" y="476">不能发生 OOM</text><text x="1037.9" y="461.2">永久代是有限 JVM 参数上面的限制，无法动态调整，容易发生 OOM；而</text><text x="1037.9" y="468">元空间使用了直接内存，受本机内存的最大限制，而且可以根据GC的动态</text><text x="1037.9" y="475">调整元空间大小，不能发生 OOM</text>
<text x="985.5" y="489">可加载更多的类</text><text x="1039" y="488.5">元空间对于使用的内存更大，受本机内存大小限制，可以加载更多的类信息</text>
<text x="986.4" y="515.9">JRockit 没有永久代</text><text x="1047.9" y="502">在 JDK 1.8 前，合并 HotSpot 和 JRockit 定型 JRockit 并没有永久代</text><text x="1047.9" y="509">这一东西，所以合并之后为了节省空间，就直接把永久代去掉，换为元</text><text x="1047.9" y="515.9">空间</text>
<text x="795" y="657.5">线程私有</text>
<text x="875.4" y="529">当前线程的执行指令指示器，指向下一条即将执行</text><text x="875.4" y="535.9">的指令；如果发生线程上下文切换，需要记录下当</text><text x="875.4" y="542.8">前指令的行号，以便线程恢复执行时知道自己应从</text><text x="875.4" y="549.8">哪里开始继续执行</text><text x="875.4" y="563.2">唯一一个不会发生 OOM 的区域</text>
<text x="896" y="576.3">每个方法执行都会产生一个栈帧，压入该线程栈中执行，方法执行完后弹出该栈</text><text x="896" y="583.6">帧，并会退回！</text>
<text x="896" y="641.6">发生两种错误</text><text x="944" y="632">OOM</text>
<text x="974" y="597">虚拟机栈允许动态扩展，但 Java 堆中没有足够</text><text x="974" y="604">大的内存分配给虚拟机栈，但垃圾回收器也无</text><text x="974" y="610.6">法提供更多的内存空间，不断增 new 线程，</text><text x="974" y="617.5">方法栈没不能释放，每次创建线程都会请求开</text><text x="974" y="624.4">辟一定以上内存在该线程保持被搁，如果这时</text><text x="974" y="631.4">的栈内存不足以分配，就会发生 OOM</text>
<text x="944.3" y="651.8">SOF</text><text x="971" y="644.4">虚拟机栈的内存大小不允许动态扩展，且线程请</text><text x="971" y="651.8">求栈的深度大于虚拟机栈的最大深度</text>
<text x="896" y="665.3">参数</text><text x="922.9" y="665.3">指定每个虚拟机栈的大小 -Xss</text>
<rect x="906.8" y="687" width="24.2" height="37.5" fill="#ececec"/><path stroke="#fff" stroke-width=".7" fill="none" d="M906.8 694.5H931M906.8 702H931M906.8 709.5H931M906.8 717H931"/><rect x="952.5" y="675.5" width="44.5" height="34.7" fill="#b3c6d8"/><path stroke="#aaa" stroke-width=".5" fill="none" d="M931 703H952.5"/><path stroke="#789" stroke-width=".9" fill="none" d="M962 680H988M960 683H990M966 690H984M964 693H986M962 702H988M958 705H992M985 727H1000"/>
<text x="875.4" y="745.3">虚拟机栈为虚拟机执行 Java 方法（也就是字节码）服务，而本地方法栈则为虚拟机使用</text><text x="875.4" y="752.2">到的 Native 方法服务。</text><text x="875.4" y="765.7">也会抛出与方法栈相同的两个错误</text>
<text x="843.2" y="778.7">JDK 1.7 以前字符串常量是为方法区常量也都存在于方法区中</text><text x="843.2" y="792.2">JDK1.7 对字符串常量池从方法区移动到堆空间进行存放，而运</text><text x="843.2" y="799">行时常量池还是保留在方法区中</text><text x="843.2" y="812.2">JDK1.8 方法区变为元空间，运行时常量池还是在元空间中，</text><text x="843.2" y="819.1">没有移动到堆上</text>

<!-- HotSpot -->
<text x="832.5" y="863.8">遇到新对象</text><text x="874.6" y="843.8">虚拟机在 new 对象时首先检查常量池是否能定位到该</text><text x="874.6" y="850.2">类的符号引用，并检查该符号引用代表的类是否已被加</text><text x="874.6" y="857">载过、解析和初始化过。如果没有则需要先进行类加</text><text x="874.6" y="863.8">载</text>
<text x="832.5" y="979.9">分配内存</text><text x="869.3" y="877.4">选择哪种分配方式由 Java 堆是否规整决定，而 Java</text><text x="869.3" y="884.5">堆是否规整又由所采用的垃圾收集器是否带有压缩整理</text><text x="869.3" y="891.6">功能决定。</text>
<text x="869.5" y="936">指针碰撞</text><text x="906.8" y="904.9">适用场合：堆内存规整（无内存碎片）</text><text x="907.9" y="952.7">原理</text><text x="933.6" y="918">将已使用的内存全部放在内</text><text x="933.6" y="924.9">存的一边，中间放上一个分</text><text x="933.6" y="932">界指针，在分配内存时，该</text><text x="933.6" y="938.8">指针向没有使用的内存方向</text><text x="933.6" y="946">移动对象需要的内存大小即</text><text x="933.6" y="952.7">可</text><text x="906.8" y="966.3">GC收集器：Serial、ParNew（新生代采用复制算法）</text>
<text x="869.5" y="1003.5">空闲列表</text><text x="906.8" y="979.5">适用场合：堆内存不规整（有内存碎片）</text><text x="907.9" y="1013.4">原理</text><text x="933.6" y="993">虚拟机会维护一个列表，该列表会记录哪些</text><text x="933.6" y="999.9">内存块是可用的，在分配的时候，在列表中</text><text x="933.6" y="1006.6">查找一块足够的内存分配给该对象，然后更</text><text x="933.6" y="1013.4">新列表</text><text x="906.8" y="1027">GC 收集器：CMS（老年代采用标记-清除算法）</text>
<text x="869.3" y="1068">分配内存时的并发安全机制</text><text x="949" y="1054.5">CAS + 失败重试</text><text x="1003.2" y="1041">在分配内存时，首先先判断该内存块自</text><text x="1003.2" y="1047.7">己能使用，然后尝试用该内存占用，如</text><text x="1003.2" y="1054.5">果占用失败则重新请求分配</text>
<text x="949" y="1081.6">TLAB</text><text x="979" y="1067.7">每个线程都预先分配一小块内存，线程 new 一个对</text><text x="979" y="1074.9">象时，JVM 先会在该线程的 TLAB 中分配内存，如</text><text x="979" y="1081.6">果分配完后再使用 CAS 重新分配一个 TLAB 给线程</text>
<text x="832.5" y="1116">初始化零值</text><text x="874.6" y="1094.9">JVM 内分配好的内存空间都初始化为零值，这一步</text><text x="874.6" y="1102">保证了对象的实例字段不赋值时可以直接被使用，例</text><text x="874.6" y="1108.8">如 int 默认值是 0，boolean 默认值是 false，对象默</text><text x="874.6" y="1116">认值是 null</text>
<text x="832.5" y="1136.3">设置对象头</text><text x="874.6" y="1129">JVM 对对象的 Mark Word 进行设置，例如对象哈希</text><text x="874.6" y="1136.3">码、GC分代年龄、锁标志位…</text>
<text x="832.5" y="1156.6">执行 &lt;init&gt; 方法</text><text x="885.4" y="1149.5">在这一步才是真正的开始对象创建，执行 Java</text><text x="885.4" y="1156.6">程序的构造器方法，对实例字段赋值</text>
<text x="891.4" y="1171.5" style="font-size:6.2px;font-weight:bold;fill:#333">Java创建对象的过程</text><text x="949.6" y="1178.4" style="font-size:3.6px;fill:#333">公众号: JavaGuide</text>
<text x="784.3" y="1251.6">对象的内存布局</text><text x="837.5" y="1224">对象头</text><text x="869.3" y="1210.6">存储对象自身的运行时数据（哈希码、GC分代</text><text x="869.3" y="1217.4">年龄、锁状态标志）</text><text x="869.3" y="1231.3">存储类型指针，判断该类属性是哪个类对象的实例</text>
<text x="837.5" y="1244.5">实例数据</text><text x="874.6" y="1244.5">存储对象的字段内容</text>
<text x="837.5" y="1278.4">对齐填充</text><text x="874.6" y="1257.7">占位作用。因为虚拟机必须规定对</text><text x="874.6" y="1264.5">象的大小都8字节的整数倍。因此</text><text x="874.6" y="1271.6">在于方便计算机在计算内存时，可</text><text x="874.6" y="1278.4">以进行全程双字对齐</text>
<text x="784.3" y="1344.5">对象的访问定位</text><text x="837" y="1312">直接指针</text><text x="874.6" y="1291.6">对象引用直接指向对象的真实地址</text><text x="874.6" y="1311.6">优势</text><text x="901.4" y="1304.9">只需要定位一次即可找到真实对象的</text><text x="901.4" y="1311.6">实例数据</text><text x="874.6" y="1332.4">劣势</text><text x="901.4" y="1325.2">对象发生移动时，所以对象引用的</text><text x="901.4" y="1332.4">地址都需要发生改变</text>
<text x="837" y="1377">句柄</text><text x="864.6" y="1345.6">Java 堆划分一块内存作为句柄池，对象引用指向该</text><text x="864.6" y="1352.4">对象的句柄地址，句柄中保存着对象的实例数据等地</text><text x="864.6" y="1359">址信息</text><text x="864" y="1379.5">优势</text><text x="890.7" y="1372.7">对象被移动时只会改变句柄中的实例数据</text><text x="890.7" y="1379.5">指针，而对象引用不需要改变地址</text><text x="864" y="1393">劣势</text><text x="890.7" y="1393">需要定位2次才可以找到对象的实例数据</text>

<!-- 垃圾回收 -->
<text x="741.8" y="1417">分三步回答：</text><text x="741.8" y="1424">1. 如何判断垃圾是否是对象</text><text x="741.8" y="1431">2. 有哪些可回收对象法，每个算法的优缺点</text><text x="741.8" y="1438">3. 有哪些常用的垃圾回收器（新生代老年代）</text><text x="741.8" y="1444.7">问：你不要跟提的很详细，你仍必须要有逻辑</text>
<text x="806" y="1472">引用计数法</text><text x="848.6" y="1457.7">为对象分配一个引用计数器，如果有一个引用时 +1，引用失</text><text x="848.6" y="1464.3">效时 -1</text><text x="848.6" y="1478.3">无法解决循环引用的问题，因此不推荐</text>
<text x="806" y="1510.5">可达性分析法</text><text x="854" y="1491.7">以 GC Roots 为起点进行搜索，搜索到的对象都是存活的</text><text x="854" y="1528.7">哪些对象是 GC Roots</text><text x="921.8" y="1505">虚拟机栈局部变量表引用的对象</text><text x="921.8" y="1518.3">本地方法栈中引用的对象</text><text x="921.8" y="1532">方法区中类静态属性引用的变量</text><text x="921.8" y="1545.3">方法区的运行时常量池中引用的</text><text x="921.8" y="1552">对象</text>
<text x="805.7" y="1580.7">方法区中的对象回收</text><text x="869.3" y="1565.7">对常量池的回收和对类的卸载</text><text x="869.3" y="1595.7">需要同时满足三个条件</text><text x="939" y="1579.3">该类的所有实例都已经被回收</text><text x="939" y="1592.7">加载该类的 ClassLoader 已经被回收</text><text x="939" y="1605.7">该类对应的 Class 对象没有被任何地</text><text x="939" y="1612.3">方引用，无法通过反射来访问该类</text>
<text x="806" y="1660.5">四种引用类型</text><text x="854" y="1626.3">强引用</text><text x="886" y="1626.3">被强引用关联的对象不会被回收。A a = new A()</text><text x="854" y="1639.7">软引用（SoftReference）</text><text x="932.5" y="1639.7">只有在内存溢出时才会被回收</text>
<text x="854" y="1673.7">弱引用（WeakReference）</text><text x="936" y="1652.7">只能存活到下一次 GC，较常于用途可选对一次的临时</text><text x="936" y="1659.7">对象。单 Java 中的 WeakHashMap 就使用弱引用，如</text><text x="936" y="1666.7">果弱引用对象被回收，会放入一个与其关联的引用队</text><text x="936" y="1673.7">列。可以掌控弱引用对象被回收</text>
<text x="854" y="1694">虚引用（PhantomReference）</text><text x="944.3" y="1687.3">设置虚引用的目的就是在对象被回收时会有一个系统通</text><text x="944.3" y="1694">知</text>
<text x="800.5" y="1734.5">标记-清除</text><text x="840" y="1707">将回收的对象标记出来，直接清</text><text x="840" y="1714">除掉那一部分内存，这样把存活</text><text x="840" y="1721">留来</text><text x="840.7" y="1748.3">不足</text><text x="867.5" y="1734.3">标记和清除的过程效</text><text x="867.5" y="1741">率很低</text><text x="867.5" y="1754.7">产生大量的内存碎片</text>
<text x="800.5" y="1789">复制</text><text x="827.5" y="1768">将整个区域划分为大小相等的两块，</text><text x="827.5" y="1774.7">每次只使用其中一半，将存活的对象</text><text x="827.5" y="1781.7">复制到另外一半内存区域</text><text x="827.5" y="1795.3">不足</text><text x="854" y="1795.3">每次只使用了一半的内存</text>
<text x="800.5" y="1836">标记-整理</text><text x="840" y="1808.7">将所有存活的对象都往一边移动</text><text x="840.7" y="1822.3">优点</text><text x="867.5" y="1822.3">不会产生内存碎片</text><text x="840.7" y="1863">不足</text><text x="867.5" y="1835.3">需要移动对象，如果</text><text x="867.5" y="1842.3">每个频道保存对象死</text><text x="867.5" y="1849.3">亡都可移，那么每个</text><text x="867.5" y="1856">对内存的地址都需要</text><text x="867.5" y="1863">发生改变</text>
<text x="800.5" y="1883.5">分代收集</text><text x="837.5" y="1876.7">新生代</text><text x="870" y="1876.7">复制算法</text><text x="837.5" y="1890.3">老年代</text><text x="870" y="1890.3">标记-整理算法</text>
<text x="742" y="2125">常见的垃圾回收器</text><text x="800.4" y="1963.3">新生代</text>
<text x="832.9" y="1910">Serial串行收集器</text><text x="889" y="1903">简单高效，没有线程交互开销</text><text x="889" y="1916.7">收集算法</text><text x="926.4" y="1916.7">复制算法</text>
<text x="832.9" y="1943.3">parNew并行收集器</text><text x="895.4" y="1929.7">Serial 的并行版本，只有它能</text><text x="895.4" y="1936.7">够与 CMS 收集器搭配使用</text><text x="895.4" y="1950.3">收集算法</text><text x="932.5" y="1950.3">复制算法</text>
<text x="832.9" y="2016.3">Parallel Scavenge高吞吐量优先收集器</text><text x="939" y="1977.7">吞吐量优先的收集器，不再关注停顿</text><text x="939" y="1984.3">时间，而是注重提高系统的吞吐量。</text><text x="1041.8" y="1963.7">停顿时间短，GC 的频率就会下降，用户运行的时间</text><text x="1041.8" y="1970.3">就长，吞吐量就会上升；反之，如果停顿时间短，</text><text x="1041.8" y="1977.3">GC 的频率就会上升，停顿次数就增多，用户运行的</text><text x="1041.8" y="1984.3">时间就会变短，吞吐量下降</text>
<text x="939" y="1998">JVM可以根据系统当前情况动态调节新</text><text x="939" y="2004.7">生代大小、晋升年龄等参数，不需要手</text><text x="939" y="2011.7">动管理</text><text x="939" y="2025.3">收集算法</text><text x="976.4" y="2025.3">复制算法</text><text x="939" y="2048.7">参数</text><text x="966.4" y="2038.3">-XX:useParallelGC</text><text x="1030.7" y="2038.3">使用 Parallel 收集器+ 老年代串行</text><text x="965.7" y="2058.7">-XX:+UseParallelOldGC</text><text x="1040.7" y="2051.7">使用 Parallel 收集器 + 老年代</text><text x="1040.7" y="2058.7">并行</text>
<text x="800.4" y="2286.3">老年代</text>
<text x="832.9" y="2087.3">Serial Old 串行收集器</text><text x="901.4" y="2072.3">Serial 的老年代版本</text><text x="901.4" y="2103">用途</text><text x="930" y="2085.7">在 JDK1.5 以前（没出现 Parallel Old时）</text><text x="930" y="2092.3">搭配 Parallel Scavenge 使用</text><text x="930" y="2106">作为 CMS 的后备方案收集器，在并发收</text><text x="930" y="2113">集时出现 Concurrent Mode Failure 使用</text>
<text x="832.9" y="2143.3">Parallel Old</text><text x="878.2" y="2126.3">Parallel Scavenge 的老年代版</text><text x="878.2" y="2133">本，所以也是注重吞吐量优先</text><text x="878.2" y="2146.7">注重吞吐量时，可采用 Parallel</text><text x="878.2" y="2153.7">Scavenge + Parallel Old 组合</text>
<text x="881.8" y="2167">第一款真正意义上的并发收集器，具有并发收集、用户停顿时间</text><text x="881.8" y="2173.7">短的优点</text>
<text x="881.8" y="2214.7">四个阶段</text><text x="919.3" y="2187.3">初始标记</text><text x="956.8" y="2187.3">需要停顿，标记 GC Roots 对象</text><text x="919.3" y="2207.7">并发标记</text><text x="956.8" y="2200.7">不需要停顿，遍历 GC Roots 的</text><text x="956.8" y="2207.7">所有对象</text><text x="919.3" y="2228">重新标记</text><text x="956.8" y="2221">需要停顿，修正并发标记时用户</text><text x="956.8" y="2228">线程使更对对象的标记记录</text><text x="919.3" y="2241.3">并发清除</text><text x="956.8" y="2241.3">不需要停顿，标记-清除</text>
<text x="881.8" y="2303">缺点</text><text x="908.6" y="2254.7">标记-清除 会产生过多的内存碎片，可能频繁触发 Full GC。使</text><text x="908.6" y="2261.3">用 -XX:CMSFullGCsBeforeCompaction N 指定 N 次 FGC</text><text x="908.6" y="2268.7">后，下一次 FGC 进行碎片整理。JDK 9 被废弃。因为碎片整</text><text x="908.6" y="2275.3">理涉及对象的移动，必须停顿用户线程</text>
<text x="908.6" y="2288.7">并发清除过程不需要影响用户线程，所以需要预留一部分空</text><text x="908.6" y="2296">间。在并发清除时产生的用户线程产生的新对象。在 JDK5默认</text><text x="908.6" y="2302.7">是老年代占用的68%就触发 FGC，在 JDK6 FGC 阈值去到</text><text x="908.6" y="2309.7">92%。但是标记-清除算法无法处理浮动垃圾，可能会出现</text><text x="908.6" y="2316.7">Concurrent Mode Failure</text>
<text x="1068.6" y="2288.7">Concurrent Mode Failure 是在CMS进行并发清理</text><text x="1068.6" y="2296">时，新生代没有连续的内存分配给新的对象，而老年</text><text x="1068.6" y="2302.7">代也没有足够的空间进行空间分配担保，此时就是这</text><text x="1068.6" y="2309.7">个现象，会采用 Serial Old 处理器收集，用户停顿时</text><text x="1068.6" y="2316.7">间增长。</text>
<text x="908.6" y="2330">对处理器资源非常敏感默认启用的回收线程数量 (CPU 核数 + 3) / 4</text>
<text x="904.3" y="2343.7">面向服务器应用的垃圾收集器，JDK9 取代 Parallel</text><text x="904.3" y="2350.3">Scavenge 和 Parallel Old 组合，成为服务器默认垃圾</text><text x="904.3" y="2357">收集器，CMS 被列为不推荐使用的垃圾收集器，未来</text><text x="904.3" y="2364">可被被弃用</text>
<text x="904.3" y="2377.7">支持以往的新生代老年代收集思维，面向堆的任意一部</text><text x="904.3" y="2384.7">分收集垃圾，衡量标准是判断哪块内存的垃圾最多，回</text><text x="904.3" y="2391.3">收收益最大，就回收那一块内存（Region），这就是</text><text x="904.3" y="2398.3">Mixed GC。</text>
<text x="904.3" y="2442">内存区域（Region）</text><text x="969.3" y="2418.7">新生代</text><text x="1001.4" y="2412">Eden</text><text x="1001.4" y="2425.3">S0 S1</text><text x="969.3" y="2438.7">老年代</text><text x="969.3" y="2452">Humongous</text><text x="1015.7" y="2452">专门存储大对象，超过 Region 的一半就会被认为是大对象</text><text x="969.3" y="2465.3">Region 大小参数设置</text><text x="1024.6" y="2465.3">-XX: G1HeapRegionSize 1MB~32MB，因也是2^N</text>
<text x="904.3" y="2522">过程</text><text x="931" y="2479">初始标记</text><text x="968.6" y="2479">记录 GC Roots 对象</text><text x="931" y="2499">并发标记</text><text x="968.6" y="2492.3">从 GC Roots 开始对堆中的对象对象进行可达性分</text><text x="968.6" y="2499">析，标记出所有存活对象</text>
<text x="931" y="2533.3">最终标记</text><text x="968.6" y="2512.7">修正并发标记时用户线程变更的对象的标记记录，并</text><text x="968.6" y="2519.3">发标记的结果用户线程变更对象标记，会记录到</text><text x="968.6" y="2526.3">Region 的 Remembered Set Log 表，而这一步会</text><text x="968.6" y="2533.3">合并到 Remembered Set 中</text>
<text x="931" y="2564.7">筛选回收</text><text x="972.9" y="2551">First 对所有需要回收的 Region 做回收价值排序，</text><text x="972.9" y="2557.7">然后根据用户的停顿时间要求，选出性价比最高</text><text x="972.9" y="2564.7">的 Region 进行回收</text>
<text x="904" y="2606">问题重点</text><text x="941.8" y="2582">总上是标记-整理，局部（两个 Region 之间）是</text><text x="941.8" y="2588.7">复制，不会产生碎片</text><text x="941.8" y="2602">可预期的停顿，让使用者用</text><text x="941.8" y="2609">-XX:MaxGCPauseMillis 指定在 M 毫秒内，回收不超过</text><text x="941.8" y="2616.3">都会选择回收效益最高的那个 Region 进行回收，不影响</text><text x="941.8" y="2623.3">到用户的吞吐量下降</text>

<!-- watermarks -->
<text x="880" y="2611" style="font-size:35px;fill:none;stroke:#8f8f8f;stroke-width:.9;opacity:.75">知乎 @程序员</text>
<text x="1048" y="2608" style="font-size:18px;fill:#777;opacity:.8">@稀土掘金技术社区</text>
</svg>
</body></html>
